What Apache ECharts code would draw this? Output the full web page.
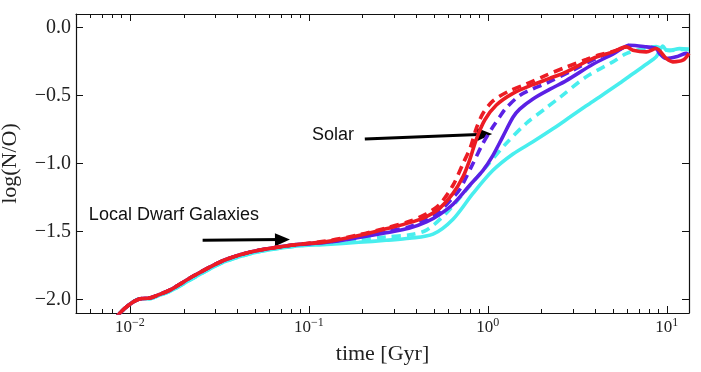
<!DOCTYPE html>
<html><head><meta charset="utf-8">
<script src="https://cdn.jsdelivr.net/npm/echarts@6/dist/echarts.min.js"></script>
<style>html,body{margin:0;padding:0;background:#fff}#c{width:701px;height:372px}</style>
</head><body><div id="c"></div>
<script>
// ---------- axes / ticks ----------
const xMin = 0.005, xMax = 13.3;
const yMin = -2.1, yMax = 0.1;
const xMajorTicks = [0.01, 0.1, 1, 10];
const xMinorTicks = [0.006,0.007,0.008,0.009,0.02,0.03,0.04,0.05,0.06,0.07,0.08,0.09,0.2,0.3,0.4,0.5,0.6,0.7,0.8,0.9,2,3,4,5,6,7,8,9];
const yTicks = [-2.0, -1.5, -1.0, -0.5, 0.0];

// ---------- data (time in Gyr, log(N/O)) ----------
const earlyT = [0.0080, 0.0088, 0.0100, 0.0114, 0.0129, 0.0145, 0.0168, 0.0225, 0.0318, 0.0412, 0.0532, 0.0814];
const earlyY = [-2.17, -2.10, -2.035, -1.995, -1.99, -1.965, -1.93, -1.83, -1.725, -1.672, -1.637, -1.60];
const earlyCyanY = [-2.17, -2.10, -2.035, -1.995, -1.995, -1.972, -1.94, -1.845, -1.738, -1.685, -1.647, -1.61];

const redSolidT = [0.126, 0.19, 0.27, 0.366, 0.454, 0.538, 0.639, 0.727, 0.792, 0.863, 0.961, 1.116, 1.382, 1.786, 2.214, 2.744, 3.863, 4.995, 5.934, 6.461, 7.674, 8.727, 9.923, 10.80, 12.29, 13.3];
const redSolidY = [-1.575, -1.53, -1.48, -1.435, -1.39, -1.33, -1.22, -1.096, -0.973, -0.82, -0.68, -0.57, -0.484, -0.42, -0.374, -0.325, -0.227, -0.179, -0.142, -0.166, -0.179, -0.154, -0.227, -0.252, -0.24, -0.19];

const redDashT = [0.126, 0.19, 0.27, 0.366, 0.454, 0.538, 0.639, 0.727, 0.80, 0.863, 0.94, 1.068, 1.30, 1.641, 2.122, 2.744, 3.548, 4.21, 4.995, 5.934];
const redDashY = [-1.57, -1.525, -1.475, -1.425, -1.37, -1.30, -1.16, -1.0, -0.88, -0.74, -0.63, -0.54, -0.47, -0.415, -0.35, -0.29, -0.235, -0.2, -0.175, -0.142];

const purpleSolidT = [0.126, 0.19, 0.27, 0.366, 0.454, 0.538, 0.639, 0.792, 0.94, 1.068, 1.215, 1.382, 1.506, 1.786, 2.214, 2.744, 3.863, 4.995, 6.192, 7.674, 8.727, 9.106, 9.923, 11.28, 12.83, 13.3];
const purpleSolidY = [-1.58, -1.545, -1.51, -1.475, -1.43, -1.375, -1.30, -1.16, -1.05, -0.94, -0.80, -0.66, -0.60, -0.525, -0.455, -0.39, -0.27, -0.195, -0.13, -0.142, -0.154, -0.19, -0.227, -0.215, -0.19, -0.2];

const purpleDashT = [0.126, 0.19, 0.27, 0.366, 0.454, 0.538, 0.639, 0.697, 0.826, 0.94, 1.068, 1.165, 1.269, 1.506, 1.786, 2.122, 2.988, 4.21, 4.995, 6.192];
const purpleDashY = [-1.578, -1.54, -1.5, -1.465, -1.41, -1.35, -1.25, -1.19, -1.0, -0.85, -0.73, -0.656, -0.59, -0.50, -0.45, -0.41, -0.313, -0.215, -0.18, -0.13];

const cyanDashT = [0.126, 0.19, 0.27, 0.366, 0.454, 0.587, 0.759, 0.981, 1.269, 1.641, 2.122, 2.518, 3.548, 4.995, 5.934, 7.674, 8.727, 9.5, 10.35, 12.29, 13.3];
const cyanDashY = [-1.585, -1.56, -1.54, -1.525, -1.49, -1.364, -1.193, -1.022, -0.851, -0.704, -0.59, -0.515, -0.362, -0.252, -0.191, -0.15, -0.14, -0.16, -0.17, -0.16, -0.16];

const cyanSolidT = [0.126, 0.19, 0.27, 0.366, 0.494, 0.639, 0.826, 1.068, 1.382, 1.786, 2.31, 2.863, 3.548, 4.21, 5.444, 6.461, 7.674, 8.727, 9.106, 9.5, 9.923, 10.35, 11.77, 13.3];
const cyanSolidY = [-1.595, -1.58, -1.565, -1.55, -1.52, -1.41, -1.22, -1.05, -0.93, -0.84, -0.745, -0.66, -0.575, -0.51, -0.41, -0.34, -0.27, -0.215, -0.17, -0.135, -0.165, -0.166, -0.155, -0.16];

// ---------- annotations (data coords: Gyr, log(N/O)) ----------
const solarText = 'Solar';
const solarTextAt = [0.1363, -0.7936];
const solarArrowFrom = [0.2054, -0.819];
const solarArrowTo = [0.960, -0.785];
const dwarfText = 'Local Dwarf Galaxies';
const dwarfTextAt = [0.0059, -1.3766];
const dwarfArrowFrom = [0.0255, -1.565];
const dwarfArrowTo = [0.0712, -1.56];

// ---------- build ----------
const lg = Math.log10;
const pts = (T, Y) => T.map((t, i) => [lg(t), Y[i]]);
const RED = '#ec1c24', PURPLE = '#5b20e5', CYAN = '#48eeee';
const SERIF = '"Liberation Serif", "DejaVu Serif", serif';
const SANS = '"Liberation Sans", Arial, sans-serif';

function lineSeries(name, color, dashed, T, Y, z) {
  return {
    type: 'line', name, data: pts(T, Y), symbol: 'none', showSymbol: false,
    smooth: 0.3, silent: true, z,
    lineStyle: { color, width: 3.6, type: dashed ? [9, 6] : 'solid', cap: 'butt' },
    emphasis: { disabled: true }
  };
}

const seriesList = [
  lineSeries('cyan solid', CYAN, false, earlyT.concat(cyanSolidT), earlyCyanY.concat(cyanSolidY), 2),
  lineSeries('cyan dashed', CYAN, true, earlyT.concat(cyanDashT), earlyCyanY.concat(cyanDashY), 3),
  lineSeries('purple solid', PURPLE, false, earlyT.concat(purpleSolidT), earlyY.concat(purpleSolidY), 4),
  lineSeries('purple dashed', PURPLE, true, earlyT.concat(purpleDashT), earlyY.concat(purpleDashY), 5),
  lineSeries('red solid', RED, false, earlyT.concat(redSolidT), earlyY.concat(redSolidY), 6),
  lineSeries('red dashed', RED, true, earlyT.concat(redDashT), earlyY.concat(redDashY), 7)
];

const toC = p => [lg(p[0]), p[1]];
seriesList.push({
  type: 'line', name: 'annotations', data: [], silent: true, z: 10,
  markLine: {
    silent: true, animation: false,
    symbol: ['none', 'triangle'], symbolSize: [13, 15],
    label: { show: false },
    lineStyle: { color: '#000', width: 3, type: 'solid' },
    emphasis: { disabled: true },
    data: [
      [{ coord: toC(solarArrowFrom) }, { coord: toC(solarArrowTo) }],
      [{ coord: toC(dwarfArrowFrom) }, { coord: toC(dwarfArrowTo) }]
    ]
  },
  markPoint: {
    silent: true, animation: false, symbol: 'circle', symbolSize: 0,
    data: [
      { coord: toC(solarTextAt), label: { show: true, position: 'inside', formatter: solarText } },
      { coord: toC(dwarfTextAt), label: { show: true, position: 'right', distance: 0, formatter: dwarfText } }
    ],
    label: { color: '#111', fontFamily: SANS, fontSize: 18 }
  }
});

function supLabel(v) {
  const e = Math.round(v);
  return '{b|10}{s|' + (e < 0 ? '\u2212' + Math.abs(e) : e) + '}';
}

const axisLineStyle = { color: '#111', width: 1.2 };
const xBase = { type: 'value', min: lg(xMin), max: lg(xMax), gridIndex: 0, splitLine: { show: false } };

const option = {
  animation: false,
  grid: { left: 76, right: 12, top: 14, bottom: 59, containLabel: false, outerBoundsMode: 'none' },
  xAxis: [
    Object.assign({}, xBase, {
      position: 'bottom',
      axisLine: { show: true, onZero: false, lineStyle: axisLineStyle },
      axisTick: { show: true, inside: true, length: 7, customValues: xMajorTicks.map(lg), lineStyle: { color: '#111', width: 1 } },
      axisLabel: {
        show: true, margin: 4, customValues: xMajorTicks.map(lg), formatter: supLabel,
        rich: {
          b: { fontFamily: SERIF, fontSize: 17, color: '#222' },
          s: { fontFamily: SERIF, fontSize: 12, color: '#222', padding: [0, 0, 10, 0] }
        }
      },
      name: 'time [Gyr]', nameLocation: 'middle', nameGap: 30,
      nameTextStyle: { fontFamily: SERIF, fontSize: 22, color: '#222' }
    }),
    Object.assign({}, xBase, {
      position: 'bottom',
      axisLine: { show: false, onZero: false },
      axisTick: { show: true, inside: true, length: 4, customValues: xMinorTicks.map(lg), lineStyle: { color: '#111', width: 1 } },
      axisLabel: { show: false }
    }),
    Object.assign({}, xBase, {
      position: 'top',
      axisLine: { show: true, onZero: false, lineStyle: axisLineStyle },
      axisTick: { show: true, inside: true, length: 7, customValues: xMajorTicks.map(lg), lineStyle: { color: '#111', width: 1 } },
      axisLabel: { show: false }
    }),
    Object.assign({}, xBase, {
      position: 'top',
      axisLine: { show: false, onZero: false },
      axisTick: { show: true, inside: true, length: 4, customValues: xMinorTicks.map(lg), lineStyle: { color: '#111', width: 1 } },
      axisLabel: { show: false }
    })
  ],
  yAxis: [
    {
      type: 'value', min: yMin, max: yMax, position: 'left', splitLine: { show: false },
      axisLine: { show: true, onZero: false, lineStyle: axisLineStyle },
      axisTick: { show: true, inside: true, length: 7, customValues: yTicks, lineStyle: { color: '#111', width: 1 } },
      axisLabel: {
        show: true, margin: 5, customValues: yTicks,
        formatter: v => (v < 0 ? '\u2212' : '') + Math.abs(v).toFixed(1),
        fontFamily: SERIF, fontSize: 20, color: '#222'
      },
      name: 'log(N/O)', nameLocation: 'middle', nameGap: 55,
      nameTextStyle: { fontFamily: SERIF, fontSize: 22, color: '#222' }
    },
    {
      type: 'value', min: yMin, max: yMax, position: 'right', splitLine: { show: false },
      axisLine: { show: true, onZero: false, lineStyle: axisLineStyle },
      axisTick: { show: true, inside: true, length: 7, customValues: yTicks, lineStyle: { color: '#111', width: 1 } },
      axisLabel: { show: false }
    }
  ],
  series: seriesList
};

const chart = echarts.init(document.getElementById('c'), null, { renderer: 'canvas' });
chart.setOption(option);
</script>
</body></html>
